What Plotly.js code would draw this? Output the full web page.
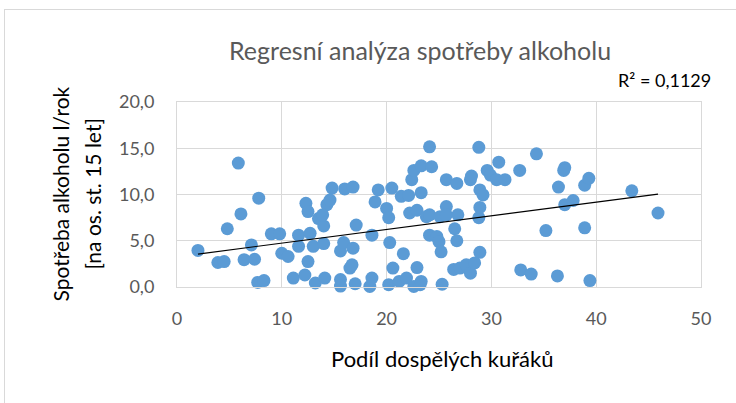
<!DOCTYPE html>
<html>
<head>
<meta charset="utf-8">
<script src="https://cdn.plot.ly/plotly-3.0.1.min.js"></script>
<style>
html,body{margin:0;padding:0;background:#fff;overflow:hidden;}
#chart{position:absolute;left:0;top:0;width:736px;height:403px;}
#frame{position:absolute;left:4px;top:9px;width:900px;height:600px;border:1px solid #d9d9d9;pointer-events:none;}
</style>
</head>
<body>
<div id="chart"></div>
<div id="frame"></div>
<script>
// Podíl dospělých kuřáků (%)
const smokers = [
 2.0,3.9,4.5,4.8,5.85,6.1,6.4,7.1,7.4,7.7,7.8,8.3,9.0,9.8,10.0,10.6,11.1,11.6,11.6,12.2,
 12.3,12.5,12.5,12.7,13.0,13.2,13.5,14.0,14.0,14.1,14.3,14.6,14.8,13.9,15.6,15.6,15.6,15.9,16.0,16.5,
 16.7,16.8,16.8,17.0,17.1,18.6,18.6,18.4,18.9,19.2,20.0,20.2,20.3,20.5,20.2,20.6,21.2,21.4,21.6,21.9,
 22.1,22.2,22.4,22.6,22.6,22.9,22.9,23.2,23.3,23.3,23.3,23.8,24.1,24.1,24.1,24.3,24.8,25.0,25.1,25.2,
 25.3,25.7,25.7,25.7,26.4,26.5,26.7,26.7,26.8,27.0,27.6,28.0,28.0,28.1,28.4,28.8,28.8,28.9,28.9,28.9,
 29.2,29.6,29.9,30.5,30.7,31.3,32.7,32.8,33.8,34.3,35.2,36.3,36.4,37.0,36.9,37.0,37.8,38.9,38.9,39.3,
 39.4,43.4,45.9
];
// Spotřeba alkoholu l/rok [na os. st. 15 let]
const alcohol = [
 3.95,2.65,2.75,6.3,13.4,7.9,2.95,4.55,3.0,0.5,9.6,0.7,5.75,5.75,3.65,3.3,0.97,5.6,4.4,1.3,
 9.05,8.15,2.75,5.8,4.4,0.43,7.4,6.6,4.7,0.97,8.9,9.4,10.7,7.8,3.9,0.8,0.1,4.8,10.6,2.05,
 2.4,10.8,4.2,0.35,6.7,5.6,0.97,0.06,9.2,10.5,8.5,7.5,4.8,10.7,0.25,2.05,0.6,9.8,3.6,0.97,
 9.9,8.0,11.6,12.6,0.06,8.3,2.1,0.25,0.6,13.1,10.2,7.6,15.15,7.8,5.6,13.0,5.45,4.9,7.6,3.8,
 0.3,8.7,7.8,11.6,1.9,6.3,11.2,5.0,7.8,2.05,2.4,1.5,11.6,12.0,2.6,15.1,7.5,8.6,10.5,3.75,
 9.95,12.6,12.1,11.6,13.5,11.6,12.6,1.85,1.4,14.4,6.1,1.2,10.8,12.9,12.6,8.9,9.35,6.4,11.0,11.75,
 0.7,10.4,8.0
];
const xTicks = [0,10,20,30,40,50];
const yTicks = [0,5,10,15,20];
const chartTitle = 'Regresní analýza spotřeby alkoholu';
const xTitle = 'Podíl dospělých kuřáků';
const yTitle1 = 'Spotřeba alkoholu l/rok';
const yTitle2 = '[na os. st. 15 let]';
const r2Label = 'R² = 0,1129';

// linear least-squares trendline
const n = smokers.length;
let sx=0, sy=0, sxx=0, sxy=0;
for (let i=0;i<n;i++){ sx+=smokers[i]; sy+=alcohol[i]; sxx+=smokers[i]*smokers[i]; sxy+=smokers[i]*alcohol[i]; }
const slope = (n*sxy - sx*sy)/(n*sxx - sx*sx);
const intercept = (sy - slope*sx)/n;
const xmin = Math.min(...smokers), xmax = Math.max(...smokers);
const trendX = [xmin, xmax];
const trendY = trendX.map(v => intercept + slope*v);

const FONT = 'Lato, "Open Sans", sans-serif';
const grey = '#595959';
const PW = 524; // plot width px

const traces = [
 {type:'scatter', mode:'markers', x:smokers, y:alcohol, cliponaxis:false,
  marker:{color:'#5b9bd5', size:13, line:{width:0}}, hoverinfo:'skip'},
 {type:'scatter', mode:'lines', x:trendX, y:trendY, cliponaxis:false,
  line:{color:'#000000', width:1.2}, hoverinfo:'skip'}
];

const layout = {
 width:736, height:403,
 margin:{l:177, r:35, t:102, b:116},
 paper_bgcolor:'rgba(0,0,0,0)', plot_bgcolor:'#ffffff',
 showlegend:false,
 font:{family:FONT, color:grey},
 title:{text:''},
 xaxis:{range:[0,50], tickvals:xTicks, ticktext:xTicks.map(String), showgrid:true, gridcolor:'#d9d9d9', gridwidth:1,
   zeroline:false, showline:true, linecolor:'#d9d9d9', linewidth:1, mirror:true, ticks:'',
   ticklabelstandoff:15, tickfont:{family:FONT, size:18, color:grey}, fixedrange:true},
 yaxis:{range:[0,20], tickvals:yTicks, ticktext:yTicks.map(v=>v.toFixed(1).replace('.', ',')), showgrid:true, gridcolor:'#d9d9d9', gridwidth:1,
   zeroline:false, showline:true, linecolor:'#d9d9d9', linewidth:1, mirror:true, ticks:'',
   ticklabelstandoff:18, tickfont:{family:FONT, size:18, color:grey}, fixedrange:true},
 annotations:[
  {text:chartTitle, xref:'paper', yref:'paper', x:(420-177)/PW, y:1, yshift:52, xanchor:'center', yanchor:'middle', showarrow:false,
   font:{family:FONT, size:25, color:grey}},
  {text:r2Label, xref:'paper', yref:'paper', x:(713-177)/PW, y:1, yshift:22, xanchor:'right', yanchor:'middle', showarrow:false,
   font:{family:FONT, size:18, color:'#000000'}},
  {text:xTitle, xref:'paper', yref:'paper', x:(442-177)/PW, y:0, yshift:-71, xanchor:'center', yanchor:'middle', showarrow:false,
   font:{family:FONT, size:22, color:'#000000'}},
  {text:yTitle1, xref:'paper', yref:'paper', x:0, xshift:-117, y:0.5, textangle:-90, xanchor:'center', yanchor:'middle', showarrow:false,
   font:{family:FONT, size:21, color:'#000000'}},
  {text:yTitle2, xref:'paper', yref:'paper', x:0, xshift:-85, y:0.5, textangle:-90, xanchor:'center', yanchor:'middle', showarrow:false,
   font:{family:FONT, size:21, color:'#000000'}}
 ]
};

Plotly.newPlot('chart', traces, layout, {staticPlot:true, displayModeBar:false});
</script>
</body>
</html>
